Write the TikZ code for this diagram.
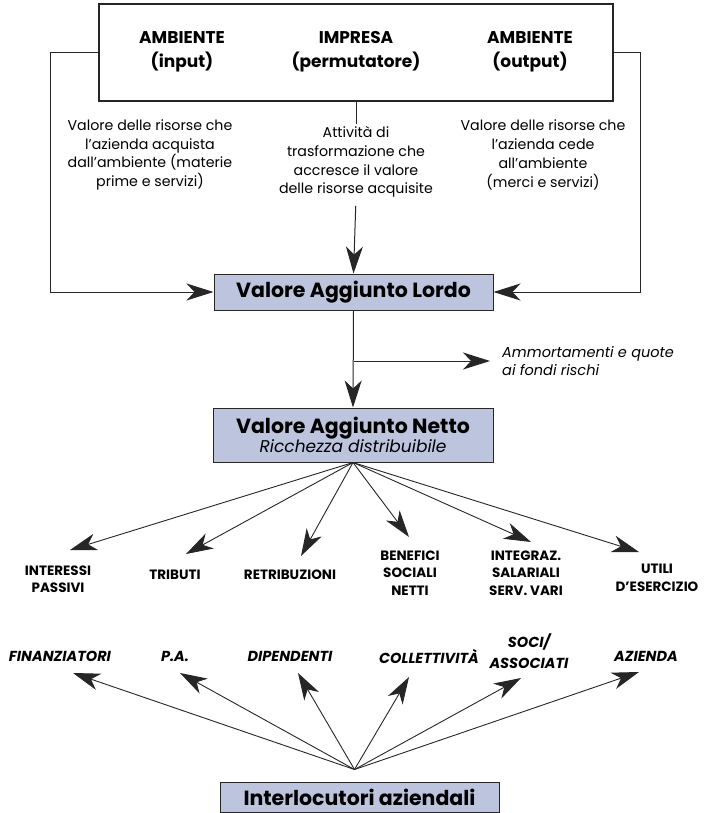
\documentclass[tikz,border=0pt]{standalone}
\usepackage{fontspec}
\setmainfont{Poppins}
\usetikzlibrary{arrows.meta}
\definecolor{boxfill}{RGB}{188,196,222}
\definecolor{ink}{RGB}{38,38,38}
\begin{document}
\begin{tikzpicture}[x=1pt,y=-1pt,
  line/.style={draw=ink,line width=1pt},
  tip/.style={-{Stealth[length=27pt,width=17pt,inset=8pt]}},
  arr/.style={line,tip},
  fanarr/.style={draw=ink,line width=0.9pt,tip},
  bluebox/.style={draw=ink,fill=boxfill,line width=1pt,inner sep=0pt,align=center},
  boxtitle/.style={font=\fontsize{20.5}{24}\selectfont\bfseries},
  head/.style={font=\fontsize{17}{24}\selectfont\bfseries,align=center,inner sep=0pt},
  body/.style={font=\fontsize{14.2}{18.8}\selectfont,align=center,inner sep=0pt},
  share/.style={font=\fontsize{13.5}{17.5}\selectfont\bfseries,align=center,inner sep=0pt},
  party/.style={font=\fontsize{14.5}{21}\selectfont\bfseries\itshape,align=center,inner sep=0pt}
]
\useasboundingbox (0,0) rectangle (708,813);

% environment / firm / environment
\node[draw=ink,line width=1.2pt,minimum width=514pt,minimum height=97pt,inner sep=0pt] (env) at (356,52.5) {};
\node[head] (ambin)  at (182,52) {AMBIENTE\\(input)};
\node[head] (impr)   at (356,52) {IMPRESA\\(permutatore)};
\node[head] (ambout) at (530,52) {AMBIENTE\\(output)};

\node[body] (dLeft)  at (150,155) {Valore delle risorse che\\l’azienda acquista\\dall’ambiente (materie\\prime e servizi)};
\node[body] (dMid)   at (356,162) {Attività di\\trasformazione che\\accresce il valore\\delle risorse acquisite};
\node[body] (dRight) at (543,155) {Valore delle risorse che\\l’azienda cede\\all’ambiente\\(merci e servizi)};

% gross and net value added
\node[bluebox,boxtitle,minimum width=279pt,minimum height=36pt] (val) at (353.5,292) {Valore Aggiunto Lordo};
\node[bluebox,minimum width=280pt,minimum height=54pt] (van) at (353,435)
  {{\fontsize{20.5}{24}\selectfont\bfseries Valore Aggiunto Netto}\\[-1pt]{\fontsize{17}{20}\selectfont\itshape Ricchezza distribuibile}};

\draw[arr] (env.west) -- ++(-48,0) |- (val.west);
\draw[arr] (env.east) -- ++(27,0) |- (val.east);
\draw[line,shorten >=2pt] (env.south) -- (dMid.north);
\draw[arr,shorten <=8pt] (dMid.south) -- (val.north);

\node[font=\fontsize{14.5}{18}\selectfont\itshape,align=left,inner sep=0pt,anchor=west] (amm) at (502,361) {Ammortamenti e quote\\ai fondi rischi};
\coordinate (split) at (val.south |- amm.west);
\draw[arr] (val.south) -- (van.north);
\draw[arr,shorten >=12pt] (split) -- (amm.west);

% distribution of net value added
\node[share] (sInt) at (58,579)  {INTERESSI\\PASSIVI};
\node[share] (sTri) at (175,575) {TRIBUTI};
\node[share] (sRet) at (290,575) {RETRIBUZIONI};
\node[share] (sBen) at (410,573) {BENEFICI\\SOCIALI\\NETTI};
\node[share] (sIng) at (526,573) {INTEGRAZ.\\SALARIALI\\SERV. VARI};
\node[share] (sUti) at (657,578) {UTILI\\D’ESERCIZIO};

\coordinate (tInt) at (70,550);
\coordinate (tTri) at (186,554);
\coordinate (tRet) at (301,556);
\coordinate (tBen) at (409,537);
\coordinate (tIng) at (531,542);
\coordinate (tUti) at (639,552);
\foreach \t in {tInt,tTri,tRet,tBen,tIng,tUti}
  \draw[fanarr] (van.south) -- (\t);

% stakeholders
\node[party] (pFin) at (60,656)  {FINANZIATORI};
\node[party] (pPa)  at (175,656) {P.A.};
\node[party] (pDip) at (290,656) {DIPENDENTI};
\node[party] (pCol) at (429,656) {COLLETTIVITÀ};
\node[party] (pSoc) at (529,651) {SOCI/\\ASSOCIATI};
\node[party] (pAz)  at (646,656) {AZIENDA};

\node[bluebox,boxtitle,minimum width=279pt,minimum height=30pt] (inter) at (359.5,797) {Interlocutori aziendali};
\coordinate (fan) at ([xshift=-5pt,yshift=12pt]inter.north);

\coordinate (uFin) at (73,673);
\coordinate (uPa)  at (180,673);
\coordinate (uDip) at (298,673);
\coordinate (uCol) at (409,677);
\coordinate (uSoc) at (521,678);
\coordinate (uAz)  at (639,672);
\foreach \t in {uFin,uPa,uDip,uCol,uSoc,uAz}
  \draw[fanarr] (fan) -- (\t);
\end{tikzpicture}
\end{document}
